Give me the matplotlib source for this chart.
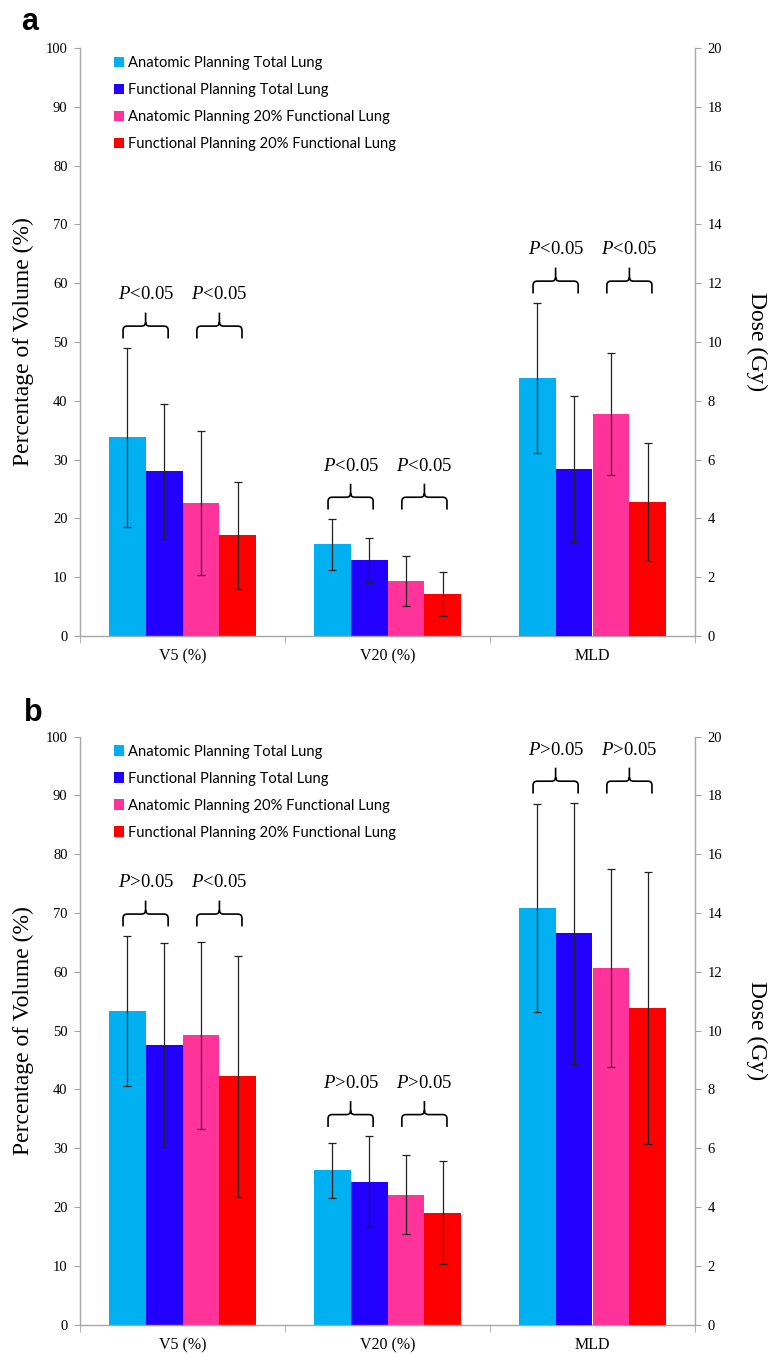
import numpy as np
import matplotlib
matplotlib.use("Agg")
import matplotlib.pyplot as plt
from matplotlib.patches import Patch, PathPatch
from matplotlib.path import Path

plt.rcParams['font.family'] = ['Liberation Serif', 'DejaVu Serif']
plt.rcParams['mathtext.fontset'] = 'custom'
plt.rcParams['mathtext.it'] = 'Liberation Serif:italic'
plt.rcParams['mathtext.rm'] = 'Liberation Serif'

categories = ['V5 (%)', 'V20 (%)', 'MLD']
series = ['Anatomic Planning Total Lung', 'Functional Planning Total Lung',
          'Anatomic Planning 20% Functional Lung', 'Functional Planning 20% Functional Lung']
colors = ['#00B0F0', '#2200FF', '#FF3399', '#FF0000']

# panel a
a_v5 = [33.8, 28.0, 22.6, 17.1]
a_v5_err = [15.2, 11.5, 12.3, 9.1]
a_v20 = [15.6, 12.9, 9.3, 7.1]
a_v20_err = [4.3, 3.8, 4.25, 3.75]
a_mld = [8.78, 5.69, 7.56, 4.56]          # Gy
a_mld_err = [2.55, 2.48, 2.08, 2.0]
a_p = [['<', '<'], ['<', '<'], ['<', '<']]

# panel b
b_v5 = [53.3, 47.5, 49.2, 42.2]
b_v5_err = [12.8, 17.35, 15.9, 20.45]
b_v20 = [26.2, 24.3, 22.1, 19.0]
b_v20_err = [4.75, 7.7, 6.75, 8.75]
b_mld = [14.18, 13.3, 12.12, 10.76]       # Gy
b_mld_err = [3.54, 4.44, 3.36, 4.63]
b_p = [['>', '<'], ['>', '>'], ['>', '>']]

GRAY = '#a6a6a6'


def brace(ax, x0, x1, y, h=2.1, t=2.3, rx=0.02, ry=0.7):
    xm = (x0 + x1) / 2
    top = y + h
    verts = [(x0, y), (x0, top - ry), (x0, top), (x0 + rx, top),
             (xm - rx, top), (xm, top), (xm, top + ry), (xm, top + t),
             (xm, top + ry), (xm, top), (xm + rx, top),
             (x1 - rx, top), (x1, top), (x1, top - ry), (x1, y)]
    codes = [Path.MOVETO, Path.LINETO, Path.CURVE3, Path.CURVE3,
             Path.LINETO, Path.CURVE3, Path.CURVE3, Path.LINETO,
             Path.MOVETO, Path.CURVE3, Path.CURVE3,
             Path.LINETO, Path.CURVE3, Path.CURVE3, Path.LINETO]
    ax.add_patch(PathPatch(Path(verts, codes), fill=False, lw=1.2, color='black',
                           capstyle='butt', joinstyle='round', zorder=5))
    return xm, top + t


def draw_panel(ax, v5, v5e, v20, v20e, mld, mlde, pvals):
    ax2 = ax.twinx()
    width = 0.18
    offsets = (np.arange(4) - 1.5) * width
    ek = dict(ecolor='#222222', elinewidth=0.9, capsize=3, capthick=0.9)
    for i in range(4):
        ax.bar([0 + offsets[i], 1 + offsets[i]], [v5[i], v20[i]], width,
               yerr=[v5e[i], v20e[i]], color=colors[i], error_kw=ek)
        ax2.bar(2 + offsets[i], mld[i], width, yerr=mlde[i], color=colors[i], error_kw=ek)

    ax.set_ylim(0, 100)
    ax2.set_ylim(0, 20)
    ax.set_xlim(-0.5, 2.5)
    scale = 100 / 20

    tops = [max(np.add(v5, v5e)), max(np.add(v20, v20e)), max(np.add(mld, mlde)) * scale]
    for c in range(3):
        for k, (p0, p1) in enumerate([(0, 1), (2, 3)]):
            x0 = c + offsets[p0] - 0.02
            x1 = c + offsets[p1] + 0.02
            xm, ytip = brace(ax, x0, x1, tops[c] + 1.6)
            ax.text(xm, ytip + 3.0, '$P$' + pvals[c][k] + '0.05', ha='center', va='center',
                    fontsize=13.5, zorder=6)

    # axes styling
    for s in ['top', 'right']:
        ax.spines[s].set_visible(False)
    for s in ['top', 'left', 'bottom']:
        ax2.spines[s].set_visible(False)
    ax.spines['left'].set_color(GRAY)
    ax.spines['bottom'].set_color(GRAY)
    ax2.spines['right'].set_color(GRAY)
    for sp in [ax.spines['left'], ax.spines['bottom'], ax2.spines['right']]:
        sp.set_linewidth(1.0)

    ax.set_yticks(np.arange(0, 101, 10))
    ax2.set_yticks(np.arange(0, 21, 2))
    ax.tick_params(axis='y', length=4, color=GRAY, labelsize=10.5, pad=5)
    ax2.tick_params(axis='y', length=4, color=GRAY, labelsize=10.5, pad=5)

    ax.set_xticks([0, 1, 2])
    ax.set_xticklabels(categories, fontsize=11.5)
    ax.set_xticks([-0.5, 0.5, 1.5, 2.5], minor=True)
    ax.tick_params(axis='x', which='major', length=0, pad=9)
    ax.tick_params(axis='x', which='minor', length=5, color=GRAY)

    ax.set_ylabel('Percentage of Volume (%)', fontsize=17, va='center')
    ax.yaxis.set_label_coords(-0.092, 0.5)
    ax2.set_ylabel('Dose (Gy)', fontsize=17, rotation=270, va='center')
    ax2.yaxis.set_label_coords(1.1, 0.5)

    handles = [Patch(facecolor=col, edgecolor='none') for col in colors]
    ax.legend(handles, series, loc='upper left', bbox_to_anchor=(0.055, 0.986),
              frameon=False, prop={'family': 'Lato', 'size': 10.6}, handlelength=0.7,
              handleheight=0.7, handletextpad=0.25, labelspacing=0.88,
              borderaxespad=0, borderpad=0)
    return ax2


fig = plt.figure(figsize=(7.68, 13.54), dpi=100)
ax_a = fig.add_axes([80 / 768, (1354 - 636) / 1354, 615 / 768, 588 / 1354])
ax_b = fig.add_axes([80 / 768, (1354 - 1324.5) / 1354, 615 / 768, 588 / 1354])

draw_panel(ax_a, a_v5, a_v5_err, a_v20, a_v20_err, a_mld, a_mld_err, a_p)
draw_panel(ax_b, b_v5, b_v5_err, b_v20, b_v20_err, b_mld, b_mld_err, b_p)

fig.text(30 / 768, 1 - 22 / 1354, 'a', fontsize=22, fontweight='bold',
         family='Liberation Sans', ha='center', va='center')
fig.text(33 / 768, 1 - 713 / 1354, 'b', fontsize=22, fontweight='bold',
         family='Liberation Sans', ha='center', va='center')

fig.savefig('out.png', dpi=100)
